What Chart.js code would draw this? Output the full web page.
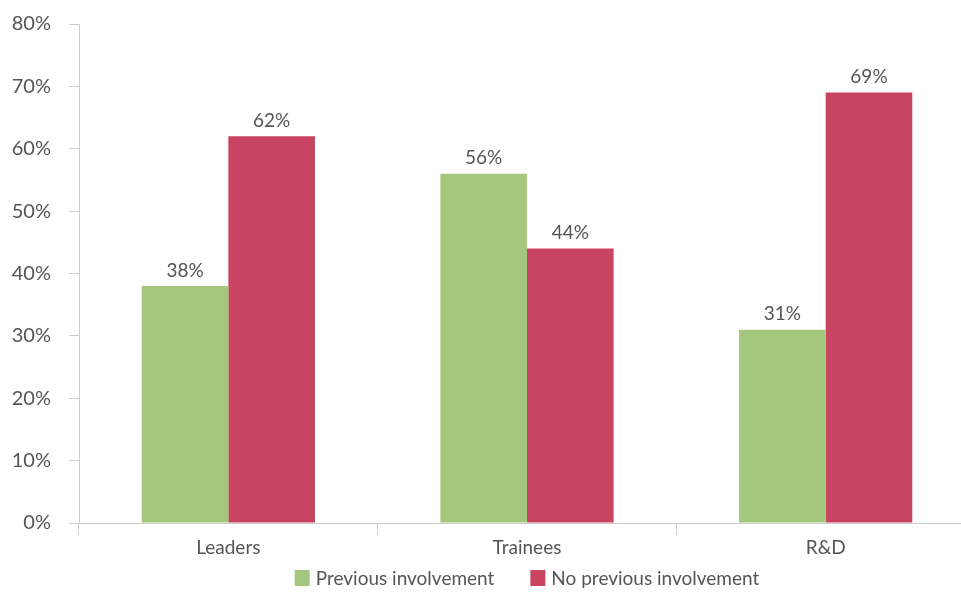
<!DOCTYPE html>
<html><head><meta charset="utf-8">
<script src="https://cdn.jsdelivr.net/npm/chart.js@4"></script>
<style>html,body{margin:0;padding:0;background:#fff;overflow:hidden;width:961px;height:594px}#wrap{width:975px;height:594px}</style>
</head><body><div id="wrap"><canvas id="c" width="975" height="594"></canvas></div>
<script>
const categories = ["Leaders", "Trainees", "R&D"];
const previousInvolvement = [38, 56, 31];
const noPreviousInvolvement = [62, 44, 69];
const yTicks = [0, 10, 20, 30, 40, 50, 60, 70, 80];
const seriesNames = ["Previous involvement", "No previous involvement"];
const seriesColors = ['#a3c77c', '#c94462'];

const FONT = "Lato, 'Open Sans', sans-serif";
const TXT = "#555555";

const dataLabels = {
  id: 'dataLabels',
  afterDatasetsDraw(chart) {
    const ctx = chart.ctx;
    ctx.save();
    ctx.font = "19px " + FONT;
    ctx.fillStyle = TXT;
    ctx.textAlign = 'center';
    ctx.textBaseline = 'bottom';
    chart.data.datasets.forEach((ds, i) => {
      chart.getDatasetMeta(i).data.forEach((bar, j) => {
        ctx.fillText(ds.data[j] + '%', bar.x, bar.y - 6);
      });
    });
    ctx.restore();
  }
};

const customLegend = {
  id: 'customLegend',
  afterDraw(chart) {
    const ctx = chart.ctx;
    const ca = chart.chartArea;
    ctx.save();
    ctx.font = "19px " + FONT;
    ctx.textBaseline = 'middle';
    ctx.textAlign = 'left';
    const box = 15, gapBox = 6, gapItem = 36;
    const items = chart.data.datasets.map(ds => ({ text: ds.label, color: ds.backgroundColor, w: ctx.measureText(ds.label).width }));
    let total = items.reduce((s, it) => s + box + gapBox + it.w, 0) + gapItem * (items.length - 1);
    let x = (ca.left + ca.right) / 2 - total / 2;
    const cy = 578;
    items.forEach(it => {
      ctx.fillStyle = it.color;
      ctx.fillRect(x, cy - 8, box, 16);
      x += box + gapBox;
      ctx.fillStyle = TXT;
      ctx.fillText(it.text, x, cy + 1);
      x += it.w + gapItem;
    });
    ctx.restore();
  }
};

new Chart(document.getElementById('c'), {
  type: 'bar',
  data: {
    labels: categories,
    datasets: [
      { label: seriesNames[0], data: previousInvolvement, backgroundColor: seriesColors[0], borderWidth: 0 },
      { label: seriesNames[1], data: noPreviousInvolvement, backgroundColor: seriesColors[1], borderWidth: 0 }
    ]
  },
  options: {
    responsive: false,
    animation: false,
    events: [],
    layout: { padding: { top: 0, right: 0, left: 0, bottom: 35 } },
    datasets: { bar: { categoryPercentage: 0.58, barPercentage: 1.0 } },
    plugins: {
      legend: { display: false },
      tooltip: { enabled: false }
    },
    scales: {
      x: {
        offset: true,
        grid: { offset: true, drawOnChartArea: false, drawTicks: true, tickLength: 12, color: '#cccccc' },
        border: { color: '#cccccc', width: 1 },
        ticks: { font: { size: 19, family: FONT }, color: TXT, padding: 1 },
        afterFit(s) { s.height = 36; }
      },
      y: {
        min: 0, max: 80,
        afterBuildTicks(s) { s.ticks = yTicks.map(v => ({ value: v })); },
        grid: { drawOnChartArea: false, drawTicks: true, tickLength: 10, color: '#cccccc' },
        border: { color: '#cccccc', width: 1 },
        ticks: { font: { size: 20, family: FONT, lineHeight: 0.6 }, color: TXT, padding: 18, callback: v => v + '%' },
        afterFit(s) { s.width = 79; }
      }
    }
  },
  plugins: [dataLabels, customLegend]
});
</script></body></html>
